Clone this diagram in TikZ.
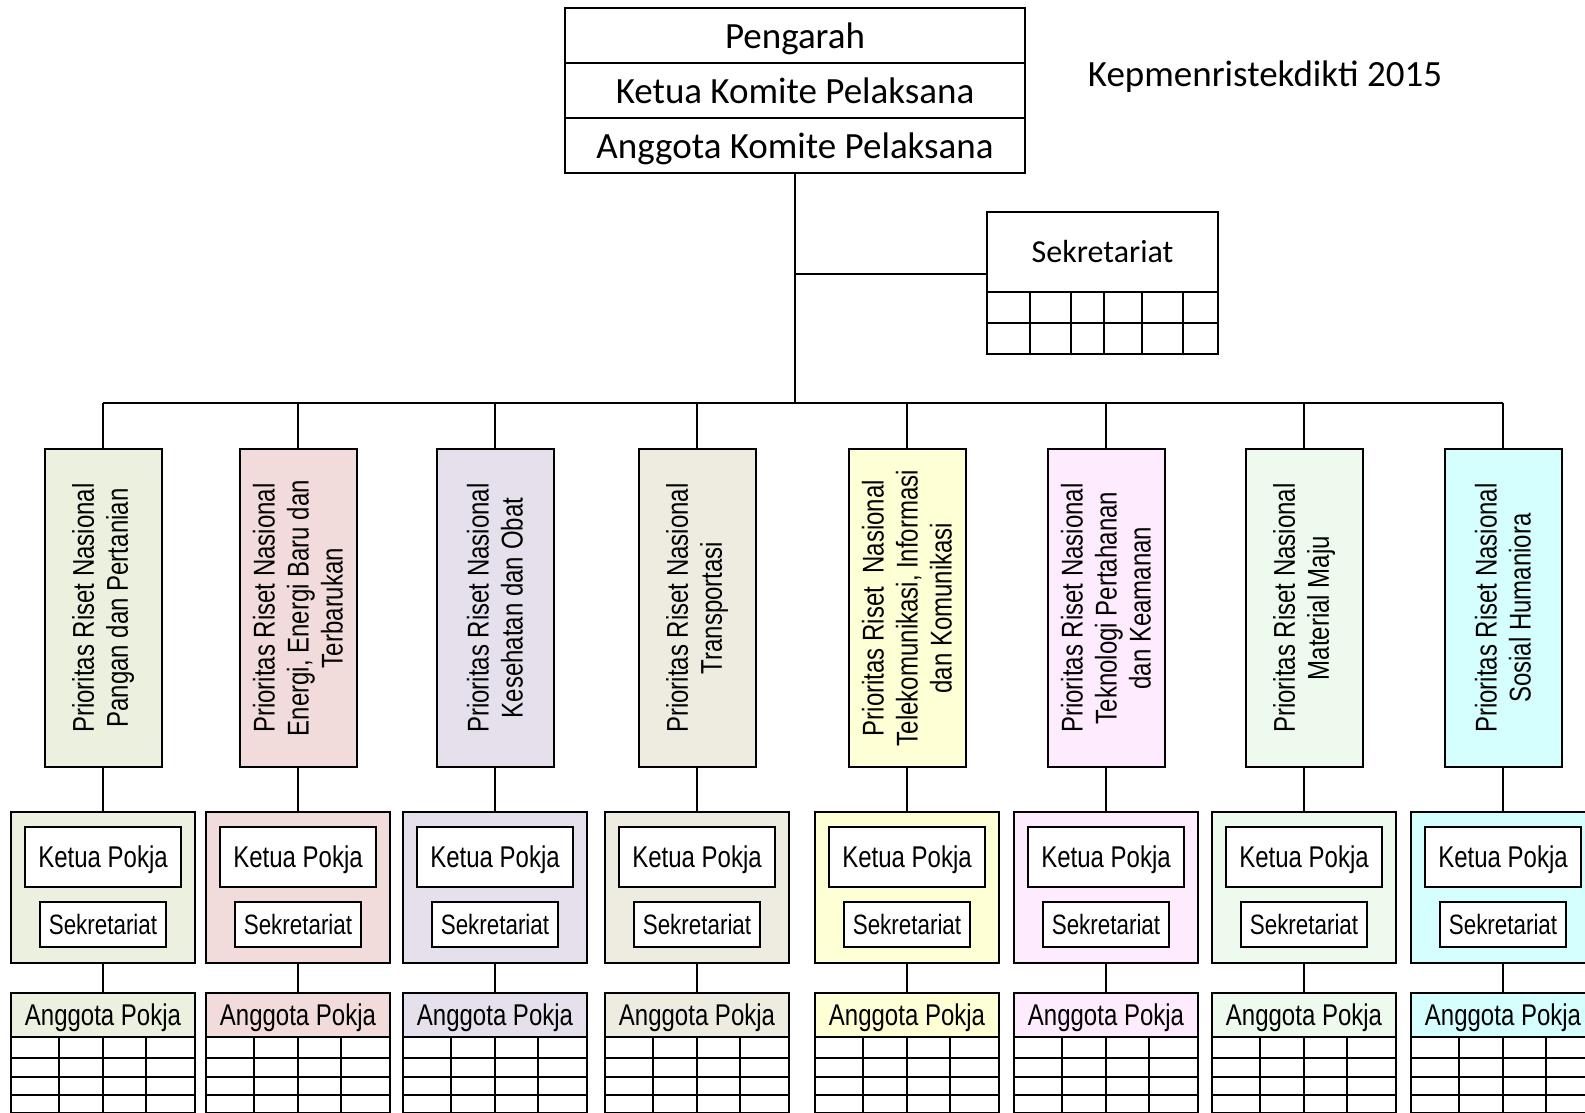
\documentclass[tikz,border=0pt]{standalone}
\usepackage{fontspec}
\usepackage{xcolor}
\usepackage{tikz}
\usetikzlibrary{positioning}
\newfontfamily\titlefont{Carlito}
\newfontfamily\narrowsans[FakeStretch=0.8]{Liberation Sans}
\definecolor{pangan}{HTML}{EBF1DE}
\definecolor{energi}{HTML}{F2DCDB}
\definecolor{kesehatan}{HTML}{E6E0EC}
\definecolor{transportasi}{HTML}{EEECE1}
\definecolor{tik}{HTML}{FFFFD5}
\definecolor{hankam}{HTML}{FFEBFE}
\definecolor{material}{HTML}{EFFAEF}
\definecolor{soshum}{HTML}{D5FFFF}

\begin{document}
\begin{tikzpicture}[
  x=0.5pt, y=-0.5pt, line width=1pt,
  row/.style={draw, outer sep=0pt, inner sep=0pt, minimum width=230pt, minimum height=27.5pt,
    text depth=0pt, font=\titlefont\fontsize{18.5}{22}\selectfont},
  sekbox/.style={draw, outer sep=0pt, inner sep=0pt, minimum width=115.5pt, minimum height=40pt,
    font=\titlefont\fontsize{16}{19}\selectfont},
  prio/.style={draw, rotate=90, outer sep=0pt, inner sep=0pt, minimum width=159pt, minimum height=58.5pt,
    align=center, font=\narrowsans\fontsize{15}{17}\selectfont},
  panel/.style={draw, outer sep=0pt, inner sep=0pt, minimum width=92pt, minimum height=75.5pt},
  ketuabox/.style={draw, fill=white, inner sep=0pt, minimum width=78pt, minimum height=30pt,
    text depth=0pt, font=\narrowsans\fontsize{15}{17}\selectfont},
  sekpokja/.style={draw, fill=white, inner sep=0pt, minimum width=63pt, minimum height=22.5pt,
    font=\narrowsans\fontsize{14}{16}\selectfont},
  anggbox/.style={draw, outer sep=0pt, inner sep=0pt, minimum width=92pt, minimum height=22pt,
    text depth=0pt, font=\narrowsans\fontsize{15}{17}\selectfont}
]
\useasboundingbox (0,0) rectangle (1585,1113);
\clip (0,0) rectangle (1585,1113);

\node[row] (pengarah) at (795,35.5) {Pengarah};
\node[row, below=0pt of pengarah] (ketua) {Ketua Komite Pelaksana};
\node[row, below=0pt of ketua] (anggota) {Anggota Komite Pelaksana};
\node[font=\titlefont\fontsize{18.5}{22}\selectfont] (tahun) at (1265,77) {Kepmenristekdikti 2015};

\node[sekbox] (sek) at (1102.5,252) {Sekretariat};
\draw (sek.south west) rectangle (1218,354);
\draw (987,323) -- (1218,323);
\foreach \gx in {1030,1071,1104,1142,1183}
  \draw (\gx,292) -- (\gx,354);

\coordinate (hub) at (795,403);
\coordinate (sekjoin) at (795,274);
\draw (anggota.south) -- (hub);
\draw (sekjoin) -- (sekjoin -| sek.west);

\node[prio, fill=pangan]       (col1) at (103,608)  {Prioritas Riset Nasional\\Pangan dan Pertanian};
\node[prio, fill=energi]       (col2) at (298,608)  {Prioritas Riset Nasional\\Energi, Energi Baru dan\\Terbarukan};
\node[prio, fill=kesehatan]    (col3) at (495,608)  {Prioritas Riset Nasional\\Kesehatan dan Obat};
\node[prio, fill=transportasi] (col4) at (697,608)  {Prioritas Riset Nasional\\Transportasi};
\node[prio, fill=tik]          (col5) at (907,608)  {Prioritas Riset~ Nasional\\Telekomunikasi, Informasi\\dan Komunikasi};
\node[prio, fill=hankam]       (col6) at (1106,608) {Prioritas Riset Nasional\\Teknologi Pertahanan\\dan Keamanan};
\node[prio, fill=material]     (col7) at (1304,608) {Prioritas Riset Nasional\\Material Maju};
\node[prio, fill=soshum]       (col8) at (1503,608) {Prioritas Riset Nasional\\Sosial Humaniora};

\draw (col1.east |- hub) -- (col8.east |- hub);
\foreach \i in {1,...,8}
  \draw (col\i.east) -- (col\i.east |- hub);

\foreach \x/\c/\i in {103/pangan/1, 298/energi/2, 495/kesehatan/3, 697/transportasi/4,
                      907/tik/5, 1106/hankam/6, 1304/material/7, 1503/soshum/8} {
  \node[panel, fill=\c] (panel\i) at (\x,887.5) {};
  \node[ketuabox] (kp\i) at (\x,857) {Ketua Pokja};
  \node[sekpokja] (sp\i) at (\x,924.5) {Sekretariat};
  \node[anggbox, fill=\c] (ap\i) at (\x,1015) {Anggota Pokja};
  \draw (col\i.west) -- (panel\i.north);
  \draw (panel\i.south) -- (ap\i.north);
  \foreach \gy in {1058,1077,1095,1113}
    \draw (\x-92,\gy) -- (\x+92,\gy);
  \foreach \gx in {-92,-44,0,43,92}
    \draw (\x+\gx,1037) -- (\x+\gx,1120);
}
\end{tikzpicture}
\end{document}
